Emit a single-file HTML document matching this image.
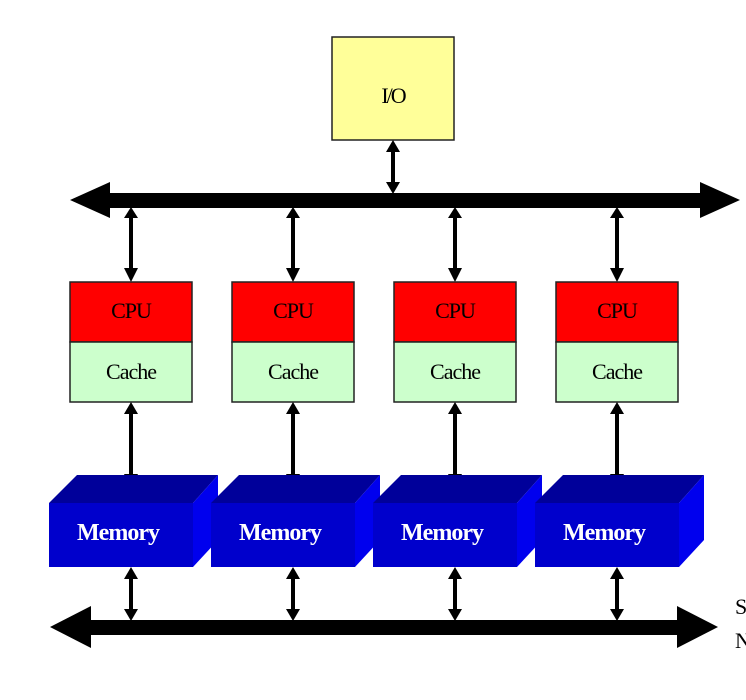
<!DOCTYPE html>
<html><head><meta charset="utf-8"><style>
html,body{margin:0;padding:0;background:#fff;width:746px;height:700px;overflow:hidden}
text{font-family:"Liberation Serif",serif}
</style></head><body>
<svg width="746" height="700" xmlns="http://www.w3.org/2000/svg">
<defs>
<g id="dar">
</g>
</defs>
<!-- I/O -->
<rect x="332" y="37" width="122" height="103" fill="#ffff99" stroke="#222" stroke-width="1.5"/>
<text x="393" y="103" font-size="22" text-anchor="middle" letter-spacing="-2">I/O</text>
<!-- I/O arrow -->
<line x1="393" y1="150" x2="393" y2="184" stroke="#000" stroke-width="4"/>
<polygon points="393,140 386,152 400,152" fill="#000"/>
<polygon points="393,194 386,182 400,182" fill="#000"/>
<!-- top bus -->
<rect x="108" y="193" width="594" height="15" fill="#000"/>
<polygon points="70,200 110,182 110,218" fill="#000"/>
<polygon points="740,200 700,182 700,218" fill="#000"/>
<!-- bottom bus -->
<rect x="88" y="620" width="592" height="15" fill="#000"/>
<polygon points="50,627 91,606 91,648" fill="#000"/>
<polygon points="718,627 677,606 677,648" fill="#000"/>
<text x="735" y="614" font-size="22">S</text>
<text x="735" y="648" font-size="22">N</text>
<g id="col">
<!-- bus to cpu -->
<line x1="131" y1="214" x2="131" y2="272" stroke="#000" stroke-width="4"/>
<polygon points="131,207 124,218 138,218" fill="#000"/>
<polygon points="131,282 124,268 138,268" fill="#000"/>
<rect x="70" y="282" width="122" height="60" fill="#ff0000" stroke="#222" stroke-width="1.5"/>
<rect x="70" y="342" width="122" height="60" fill="#ccffcc" stroke="#222" stroke-width="1.5"/>
<text x="131" y="318" font-size="22" text-anchor="middle" letter-spacing="-1">CPU</text>
<text x="131" y="379" font-size="22" text-anchor="middle" letter-spacing="-1">Cache</text>
<!-- cache to mem -->
<line x1="131" y1="412" x2="131" y2="478" stroke="#000" stroke-width="4"/>
<polygon points="131,402 124,414 138,414" fill="#000"/>
<polygon points="131,488 124,474 138,474" fill="#000"/>
<!-- memory -->
<polygon points="49,503 77,475 218,475 193,503" fill="#00009a"/>
<polygon points="193,503 218,475 218,540 193,567" fill="#0000ee"/>
<rect x="49" y="503" width="144" height="64" fill="#0000cc"/>
<text x="118" y="540" font-size="24" font-weight="bold" fill="#fff" text-anchor="middle" letter-spacing="-1">Memory</text>
<!-- mem to bus -->
<line x1="131" y1="577" x2="131" y2="612" stroke="#000" stroke-width="4"/>
<polygon points="131,567 124,579 138,579" fill="#000"/>
<polygon points="131,621 124,609 138,609" fill="#000"/>
</g>
<use href="#col" x="162"/>
<use href="#col" x="324"/>
<use href="#col" x="486"/>
</svg>
</body></html>
